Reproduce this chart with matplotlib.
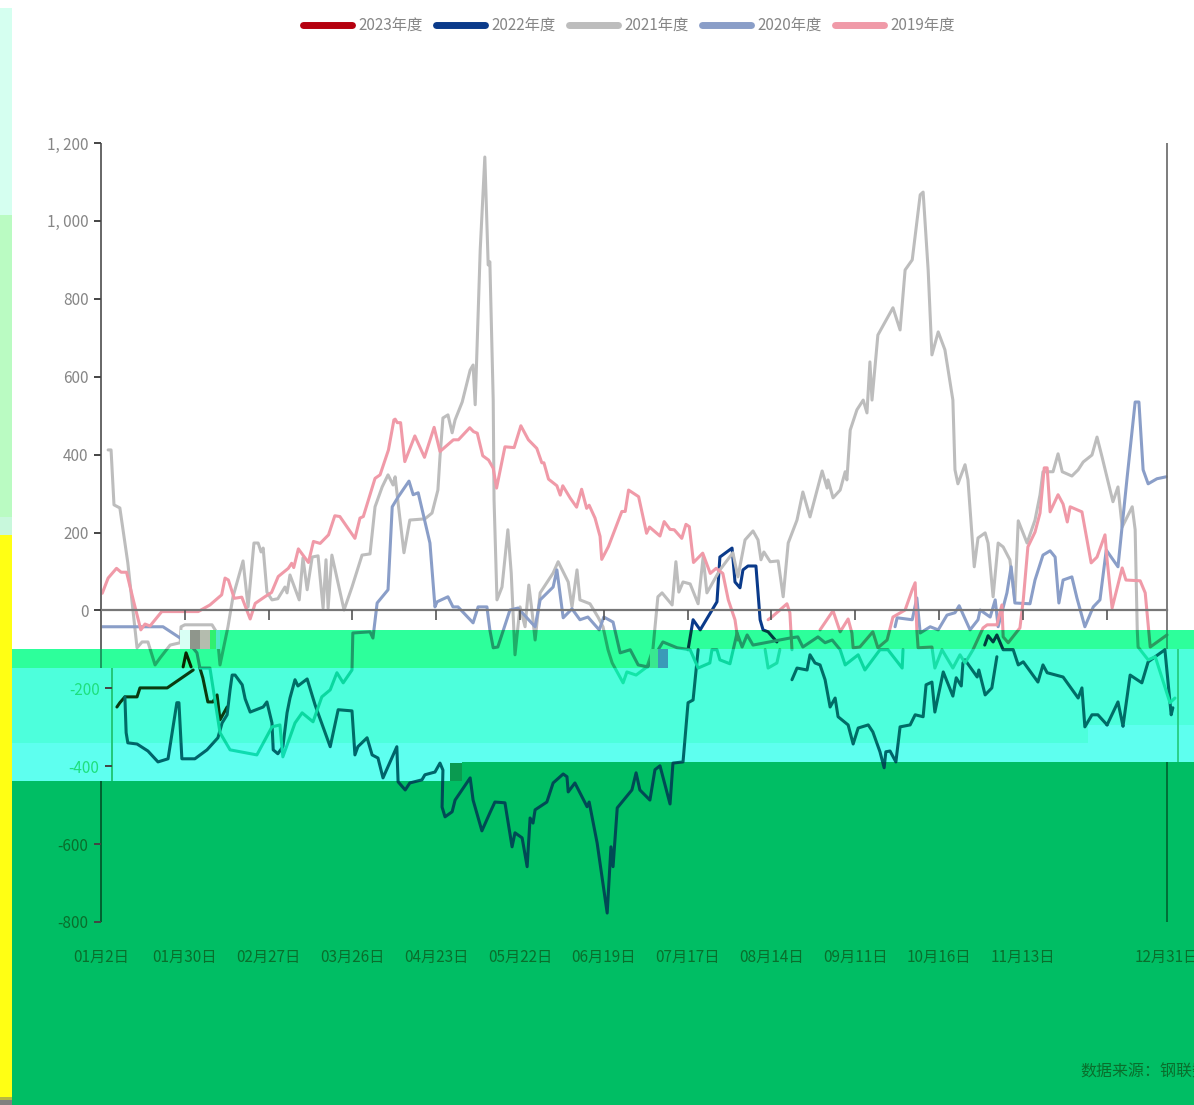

# 2019-2023 spread chart, with the broken colour bands of the source image

import matplotlib
matplotlib.use("Agg")
import matplotlib.pyplot as plt
from matplotlib.patches import Rectangle
from matplotlib.transforms import ScaledTranslation

plt.rcParams['font.family'] = ['Noto Sans CJK SC', 'DejaVu Sans']

nan = float('nan')

# ============================================================
# DATA  (x = trading day index, y = value, nan = break in line)
# ============================================================

tick_days = [0, 20, 40, 60, 80, 100, 120, 140, 160, 180, 200, 220, 240, 254.4]
tick_labels = ['01月2日', '01月30日', '02月27日', '03月26日', '04月23日', '05月22日', '06月19日',
               '07月17日', '08月14日', '09月11日', '10月16日', '11月13日', '', '12月31日']
y_ticks = [1200, 1000, 800, 600, 400, 200, 0, -200, -400, -600, -800]
y_labels = ['1, 200', '1, 000', '800', '600', '400', '200', '0', '-200', '-400', '-600', '-800']

x_2023 = [3.8, 4.5, 5.7, 8.6, 9.3, 15.8, 22.0, nan, 19.6, 20.3, 21.5, nan,
          23.6, 24.3, 25.5, 26.7, 27.7, 28.4, 30.1]
y_2023 = [-248, -237, -222, -222, -199, -199, -153, nan, -145, -109, -145, nan,
          -148, -173, -235, -235, -217, -281, -248]

x_2022 = [5.7, 6.0, 6.4, 8.6, 11.2, 13.6, 16.0, 18.1, 18.6, 19.3, 22.4, 25.3, 27.9, 28.9, 30.1, 30.8,
          31.3, 32.0, 33.7, 34.4, 35.6, 38.7, 39.6, 40.8, 41.1, 42.2, 43.4, 44.4, 45.1, 46.3, 47.0, 49.2,
          51.1, 54.7, 56.6, 59.9, 60.6, 61.3, 63.5, 64.7, 66.1, 67.3, 70.6, 70.9, 72.6, 73.7, 76.6, 77.3,
          79.7, 80.9, 81.6, 81.4, 82.1, 83.8, 84.5, 88.1, 88.8, 90.9, 92.8, 94.0, 96.4, 98.1, 98.8, 100.5,
          101.7, 102.4, 103.1, 103.6, 106.4, 107.9, 110.3, 111.2, 111.5, 113.1, 116.0, 116.5, 118.4, 120.8,
          121.7, 122.2, 123.2, 126.7, 127.7, 128.6, 131.0, 132.2, 133.4, 135.8, 136.5, 138.9, 140.1, 141.3,
          142.5, nan, 140.1, 141.3, 143.0, 147.0, 147.7, 150.6, 151.3, 152.5, 153.2, 154.4, 156.3, 157.3,
          158.0, 159.2, 161.3, nan, 164.9, 166.1, 168.5, 169.2, 170.4, 171.6, 172.8, 174.0, 175.2, 175.9,
          178.3, 179.5, 180.7, 183.1, 184.2, 185.9, 186.9, 187.3, 188.3, 189.7, 190.7, 193.1, 194.3, 196.2,
          196.9, 198.3, 199.0, 201.0, 203.3, 204.1, 205.3, 205.7, 206.2, 209.1, 209.5, 211.0, 212.6, 213.8,
          nan, 210.9, 211.7, 212.9, 213.8, 215.3, 217.7, 218.9, 220.1, 223.6, 224.8, 225.8, 229.6, 233.2,
          234.1, 234.8, 236.5, 237.9, 240.1, 242.7, 243.9, 245.6, 248.4, 249.9, 253.9, 255.4, 255.8]
y_2022 = [-222, -314, -340, -343, -361, -389, -381, -237, -237, -381, -381, -358, -327, -289, -268, -204,
          -166, -166, -191, -227, -261, -248, -235, -289, -358, -368, -350, -263, -225, -178, -194, -176,
          -243, -350, -255, -258, -371, -350, -327, -371, -379, -430, -350, -440, -461, -443, -435, -422,
          -415, -392, -410, -505, -530, -517, -487, -430, -487, -566, -520, -492, -494, -607, -571, -584,
          -658, -533, -546, -512, -492, -443, -420, -427, -466, -443, -504, -492, -597, -777,
          -607, -658, -507, -461, -417, -461, -487, -409, -399, -497, -392, -389, -237, -230,
          -101, nan, -101, -24, -50, 22, 137, 160, 73, 58, 104, 114, 114, -24,
          -50, -55, -81, nan, -178, -148, -153, -114, -135, -140, -178, -248, -225, -273,
          -294, -343, -302, -294, -312, -363, -404, -363, -361, -389, -299, -294, -268, -273,
          -191, -184, -261, -158, -220, -173, -194, -135, -127, -171, -153, -217, -199, -119,
          nan, -89, -65, -81, -63, -101, -101, -140, -132, -184, -140, -160, -171, -225,
          -199, -299, -268, -268, -294, -235, -297, -166, -186, -132, -101, -268, -250]

x_2021 = [1.7, 2.4, 3.1, 4.5, 6.4, 8.6, 9.8, 11.2, 12.9, 14.1, 16.5, 18.9, 19.1, 20.0, 26.5, 27.7, 28.4,
          30.3, 31.5, 33.9, 35.1, 36.5, 37.5, 38.2, 38.7, 39.6, 40.8, 42.2, 43.9, 44.4, 45.1, 47.3, 48.2,
          49.2, 50.4, 51.8, 53.0, 53.7, 54.2, 55.1, 58.0, 59.9, 62.3, 64.2, 65.4, 67.1, 68.5, 69.7, 70.2,
          70.9, 72.3, 73.7, 77.3, 79.0, 80.4, 80.9, 81.6, 82.8, 83.8, 84.5, 86.2, 88.1, 88.8, 89.3, 90.5,
          91.6, 92.4, 92.8, 93.6, 93.8, 94.5, 95.7, 97.1, 97.9, 98.8, 100.0, 101.2, 102.1, 102.9, 103.6,
          104.8, 107.9, 109.1, 111.5, 112.4, 113.6, 114.3, 116.7, 118.6, 119.8, 121.0, 122.0, 124.6, 125.5,
          127.7, 130.3, 131.7, 132.9, 133.9, 136.3, 137.2, 137.9, 138.9, 140.6, 142.5, 143.7, 144.6, 147.7,
          150.8, 152.0, 153.7, 155.6, 156.8, 157.5, 158.2, 159.7, 161.6, 162.8, 164.0, 166.1, 167.5, 169.2,
          172.1, 173.3, 173.5, 174.7, 176.4, 177.6, 178.0, 178.8, 180.4, 181.9, 182.8, 183.5, 184.0, 185.4,
          189.0, 190.7, 191.9, 193.6, 195.5, 196.2, 197.4, 198.3, 199.8, 201.4, 203.3, 203.8, 204.5, 206.2,
          206.9, 208.4, 209.3, 211.0, 211.7, 212.9, 214.1, 215.3, 216.9, 218.1, 218.9, 221.0, 222.9, 224.1,
          224.8, 227.2, 228.4, 229.4, 231.7, 233.2, 234.4, 236.5, 237.7, 238.9, 241.5, 242.7, 243.7, 246.1,
          246.8, 247.3, 247.5, 249.9, 251.6, 255.1, 256.3]
y_2021 = [412, 412, 271, 263, 122, -96, -81, -81, -140, -122, -89, -83, -42, -37, -37, -58, -140,
          -42, 35, 127, 9, 173, 173, 150, 160, 47, 27, 30, 60, 45, 91, 27, 135,
          53, 137, 140, 6, 130, 6, 142, 1, 60, 142, 145, 266, 317, 348, 322, 343,
          276, 148, 232, 235, 250, 309, 394, 494, 502, 456, 489, 535, 617, 630, 528, 926,
          1164, 887, 895, 540, 284, 27, 60, 207, 96, -114, 9, -42, 65, -6, -76,
          45, 96, 125, 73, 9, 104, 27, 17, -17, -42, -101, -135, -186, -158,
          -166, -145, -101, 35, 45, 14, 125, 47, 73, 68, 17, 137, 45, 104,
          148, 86, 181, 204, 181, 130, 150, 125, 127, 35, 173, 232, 304, 240,
          358, 314, 335, 289, 309, 356, 335, 463, 515, 540, 507, 638, 540, 707,
          777, 720, 874, 900, 1067, 1074, 874, 656, 715, 669, 540, 361, 325, 374,
          335, 112, 186, 199, 173, 35, 173, 163, 130, 27, 230, 173, 232, 297,
          356, 356, 402, 356, 345, 361, 381, 399, 445, 394, 279, 317, 214, 266,
          207, -50, -94, -127, -119, -237, -225]

x_2020 = [0.2, 5.3, 14.8, 18.9, 20.8, 22.9, 23.6, 26.0, 28.4, 30.8, 37.2, 40.8, 42.7, 43.4, 46.3, 48.0,
          50.6, 52.7, 54.7, 56.3, 57.8, 59.9, 60.1, 64.2, 64.9, 65.9, 68.5, 69.5, 70.9, 73.5, 74.5, 75.7,
          78.5, 79.7, 80.2, 82.8, 84.0, 85.2, 88.8, 90.0, 92.1, 92.8, 93.6, 94.7, 97.6, 99.5, 103.6, 104.8,
          107.9, 108.8, 110.3, 112.4, 114.3, 116.2, 118.9, 120.0, 122.2, 123.2, 123.9, 126.3, 128.2, 130.5,
          134.1, 137.5, 140.6, 142.5, 145.3, 145.8, 147.0, 147.7, 150.1, 151.8, 153.0, 154.2, 155.6, 164.4,
          166.3, 167.5, 171.1, 172.8, 174.5, 176.4, 177.6, 180.7, 182.3, 185.9, 187.8, 191.2, 191.4, nan,
          189.5, 190.0, 193.6, 194.7, 195.5, 197.9, 199.8, 201.9, 203.8, 204.8, 207.4, 209.3, 209.8, 212.2,
          213.4, 214.1, 216.2, 217.2, 218.1, 221.7, 222.9, 224.8, 226.5, 227.7, 228.6, 229.6, 231.7, 232.9,
          234.8, 236.8, 238.4, 239.9, 242.7, 244.9, 246.8, 247.7, 248.7, 249.9, 252.0, 254.2]
y_2020 = [-42, -42, -42, -71, -81, -109, -148, -148, -314, -358, -371, -299, -294, -376, -289, -263,
          -286, -222, -204, -160, -186, -153, -58, -55, -71, 19, 53, 266, 291, 332, 297, 302,
          173, 9, 22, 35, 9, 9, -32, 9, 9, -50, -96, -94, 1, 6, -42, 27,
          60, 104, -19, 4, -24, -17, -50, -17, -30, -76, -109, -101, -140, -145,
          -81, -96, -101, -148, -135, -101, -101, -127, -137, -58, -94, -63, -89, -71,
          -68, -94, -68, -83, -76, -101, -140, -114, -153, -101, -101, -148, -101, nan,
          -42, -19, -24, 32, -58, -42, -50, -12, -6, 12, -50, -24, 1, -17,
          27, -42, 45, 112, 19, 17, 78, 142, 153, 137, 19, 78, 86, 32,
          -42, 9, 27, 155, 112, 343, 535, 535, 361, 325, 338, 343]

x_2019 = [0.3, 1.7, 3.7, 4.8, 6.1, 7.7, 9.5, 10.5, 11.7, 14.5, 23.2, 26.0, 28.8, 29.6, 30.4, 31.8, 33.6,
          35.6, 36.8, 39.1, 40.7, 42.3, 44.7, 45.5, 46.0, 47.1, 49.5, 50.7, 52.3, 54.3, 55.8, 57.0, 60.6,
          61.8, 62.6, 65.4, 66.6, 68.6, 69.9, 70.2, 70.7, 71.5, 72.5, 74.9, 77.2, 79.5, 80.9, 84.1, 85.3,
          88.0, 88.9, 89.8, 91.1, 92.5, 93.6, 94.4, 96.4, 98.6, 100.2, 102.0, 104.0, 105.2, 105.7, 106.8,
          108.8, 109.6, 110.2, 112.0, 113.5, 114.7, 115.9, 116.5, 117.9, 119.1, 119.5, 121.1, 124.3, 125.1,
          125.9, 128.3, 130.2, 130.9, 133.4, 134.4, 135.8, 136.8, 138.6, 139.6, 140.4, 141.4, 143.6, 145.4,
          146.8, 148.4, 149.7, 151.3, 152.0, nan, 158.5, 159.2, 161.3, 162.0, nan, 159.2, 160.1, 163.7, 164.4,
          164.9, nan, 171.6, 174.7, 176.4, 178.3, 179.2, 179.5, 181.1, 184.2, 185.4, 187.6, 189.0, 191.9,
          193.6, 194.3, 194.7, 195.0, 198.3, 199.0, 200.7, 203.3, 205.0, 206.2, 208.1, 210.5, 211.5, 213.8,
          215.0, 215.3, 216.5, 219.3, 220.1, 221.2, 222.9, 224.1, 225.1, 225.8, 226.5, 228.4, 229.6, 230.6,
          231.3, 234.1, 236.3, 237.7, 239.6, 240.1, 241.3, 243.7, 244.6, 248.0, 249.2, 250.4, 254.4]
y_2019 = [44, 83, 108, 98, 98, 27, -50, -35, -40, -3, -3, 14, 40, 83, 78, 31, 34,
          -22, 18, 35, 46, 87, 108, 121, 110, 158, 123, 177, 172, 194, 243, 241, 185,
          237, 241, 339, 348, 412, 489, 491, 482, 482, 382, 448, 393, 470, 408, 438, 438,
          469, 459, 455, 397, 386, 365, 314, 420, 418, 474, 438, 416, 379, 379, 337,
          320, 296, 320, 288, 265, 311, 262, 270, 237, 190, 131, 164, 254, 254,
          309, 292, 198, 214, 191, 228, 208, 207, 185, 221, 215, 123, 147, 95,
          108, 95, 27, -24, -76, nan, -101, -148, -135, -101, nan, -24, -17, 17, -6,
          -101, nan, -50, -1, -55, -22, -58, -96, -94, -55, -96, -76, -17, 1,
          53, 71, -50, -96, -94, -148, -101, -148, -114, -135, -101, -45, -37, -37,
          14, -68, -83, -45, 27, 163, 201, 250, 366, 366, 253, 297, 273, 227,
          266, 253, 122, 137, 194, 130, 6, 109, 78, 76, 45, -94, -63]

series = [
    ('2023年度', x_2023, y_2023, '#b5000f'),
    ('2022年度', x_2022, y_2022, '#0a3a8a'),
    ('2021年度', x_2021, y_2021, '#bdbdbd'),
    ('2020年度', x_2020, y_2020, '#8a9ec8'),
    ('2019年度', x_2019, y_2019, '#f09aa8'),
]

# how each line looks inside each broken band
tint = {
    'A': {'2023年度': '#0a2400', '2022年度': '#003c3e', '2021年度': '#1fae68', '2020年度': '#1f9a68', '2019年度': '#2c9a60'},
    'B': {'2023年度': '#0a3a10', '2022年度': '#006c66', '2021年度': '#12e6a8', '2020年度': '#0ad8a0', '2019年度': '#18dfa8'},
    'C': {'2023年度': '#0a3a10', '2022年度': '#00646a', '2021年度': '#10e0b0', '2020年度': '#0edcb0', '2019年度': '#14dcb0'},
    'D': {'2023年度': '#003010', '2022年度': '#004a55', '2021年度': '#009850', '2020年度': '#009850', '2019年度': '#009850'},
}

# ============================================================
# FIGURE
# ============================================================

W, H = 1194, 1105
fig = plt.figure(figsize=(W / 100, H / 100), dpi=100)
ax = fig.add_axes([101 / W, 1 - 922 / H, (1167 - 101) / W, (922 - 143) / H])
ax.patch.set_alpha(0)


def px_rect(x0, y0, x1, y1, color, z=1.2):
    r = Rectangle((x0 / W, 1 - y1 / H), (x1 - x0) / W, (y1 - y0) / H, transform=fig.transFigure,
                  facecolor=color, edgecolor='none', zorder=z, clip_on=False)
    ax.add_patch(r)
    return r


# left strip
px_rect(0, 8, 12, 215, '#d5fff0')
px_rect(0, 215, 12, 517, '#bafbc2')
px_rect(0, 517, 12, 535, '#c8f8dc')
px_rect(0, 535, 12, 1097, '#ffff14')
px_rect(0, 1097, 12, 1100, '#b8b840')
px_rect(0, 1100, 12, 1105, '#808080')

# plain lines, the bands cover them where needed
for name, xs, ys, col in series:
    ax.plot(xs, ys, color=col, lw=2.2, label=name, zorder=1.0, clip_on=False,
            solid_capstyle='round', solid_joinstyle='round')

bands = {
    'A': [(220, 630, 1194, 649), (12, 649, 667, 668)],
    'B': [(667, 649, 1194, 668), (12, 668, 1194, 743)],
    'C': [(12, 743, 1194, 762), (12, 762, 462, 781), (1088, 725, 1194, 743)],
    'D': [(462, 762, 1194, 781), (12, 781, 1194, 1105)],
}
band_colors = {'A': '#2dff9b', 'B': '#4dffdc', 'C': '#5effef', 'D': '#00be64'}

for key in bands:
    for box in bands[key]:
        r = px_rect(*box, band_colors[key])
        for name, xs, ys, col in series:
            ln, = ax.plot(xs, ys, color=tint[key][name], lw=2.2, zorder=1.3,
                          solid_capstyle='round', solid_joinstyle='round')
            ln.set_clip_path(r)

# small mosaic pieces of the glitch
for box, c in [((180, 630, 190, 649), '#d8fff4'), ((190, 630, 200, 649), '#8f968c'),
               ((200, 630, 210, 649), '#b4bcae'), ((210, 630, 216, 649), '#30f070'),
               ((216, 630, 220, 649), '#50e8c8'), ((650, 649, 658, 668), '#38e890'),
               ((658, 649, 668, 668), '#3a9ab8'), ((450, 763, 462, 781), '#0a9a50')]:
    px_rect(*box, c, z=1.4)

# axis lines, broken and shifted like the bands
shift = 11 / 4.19
ax.vlines(0, -99, 1200, color='#666666', lw=1.4, zorder=1.5, clip_on=False)
ax.vlines(0, -148, -99, color='#1a9a60', lw=1.4, zorder=1.5, clip_on=False)
ax.vlines(shift, -438, -148, color='#22c878', lw=1.4, zorder=1.5, clip_on=False)
ax.vlines(0, -800, -438, color='#006030', lw=1.4, zorder=1.5, clip_on=False)
ax.vlines(254.4, -50, 1200, color='#666666', lw=1.2, zorder=1.5, clip_on=False)
ax.vlines(254.4, -99, -50, color='#1c9a60', lw=1.2, zorder=1.5, clip_on=False)
ax.vlines(254.4 + shift, -389, -99, color='#22c878', lw=1.2, zorder=1.5, clip_on=False)
ax.vlines(254.4, -800, -389, color='#006030', lw=1.2, zorder=1.5, clip_on=False)

ax.set_xlim(0, 254.4)
ax.set_ylim(-800, 1200)

for s in ['top', 'right', 'left']:
    ax.spines[s].set_visible(False)
ax.spines['bottom'].set_position(('data', 0))
ax.spines['bottom'].set_color('#777777')
ax.spines['bottom'].set_linewidth(1.6)
ax.spines['bottom'].set_zorder(1.5)

ax.set_xticks(tick_days)
ax.set_xticklabels(tick_labels)
ax.set_yticks(y_ticks)
ax.set_yticklabels(y_labels)
ax.tick_params(axis='x', length=7, width=1.2, color='#555555', labelcolor='#0a6e2c', labelsize=11, pad=237)
ax.tick_params(axis='y', length=5, width=1.4, color='#444444', labelcolor='#868686', labelsize=11, pad=4)

# last x tick has no mark at the far right end
ax.xaxis.get_major_ticks()[-1].tick1line.set_visible(False)
ax.xaxis.get_major_ticks()[0].tick1line.set_visible(False)

off = ScaledTranslation(11 / 100, 0, fig.dpi_scale_trans)
for t, v in zip(ax.yaxis.get_major_ticks(), y_ticks):
    if v in (-200, -400):
        t.label1.set_color('#1ee07d')
        t.label1.set_transform(t.label1.get_transform() + off)
        t.tick1line.set_color('#1ab070')
        t.tick1line.set_transform(t.tick1line.get_transform() + off)
    if v in (-600, -800):
        t.label1.set_color('#0a6e2c')
        t.tick1line.set_color('#006030')

ax.legend(loc='upper center', bbox_to_anchor=(629 / W, 1 - 4 / H), bbox_transform=fig.transFigure,
          ncol=5, frameon=False, fontsize=11, handlelength=3.2, handletextpad=0.45, columnspacing=0.85,
          labelcolor='#868686')
for ln in ax.get_legend().get_lines():
    ln.set_linewidth(5)

fig.text(1080 / W, 1 - 1072 / H, '数据来源：钢联数据', color='#0a6e2c', fontsize=11.5, va='center', ha='left',
         clip_on=False)

fig.savefig('out.png', dpi=100)
